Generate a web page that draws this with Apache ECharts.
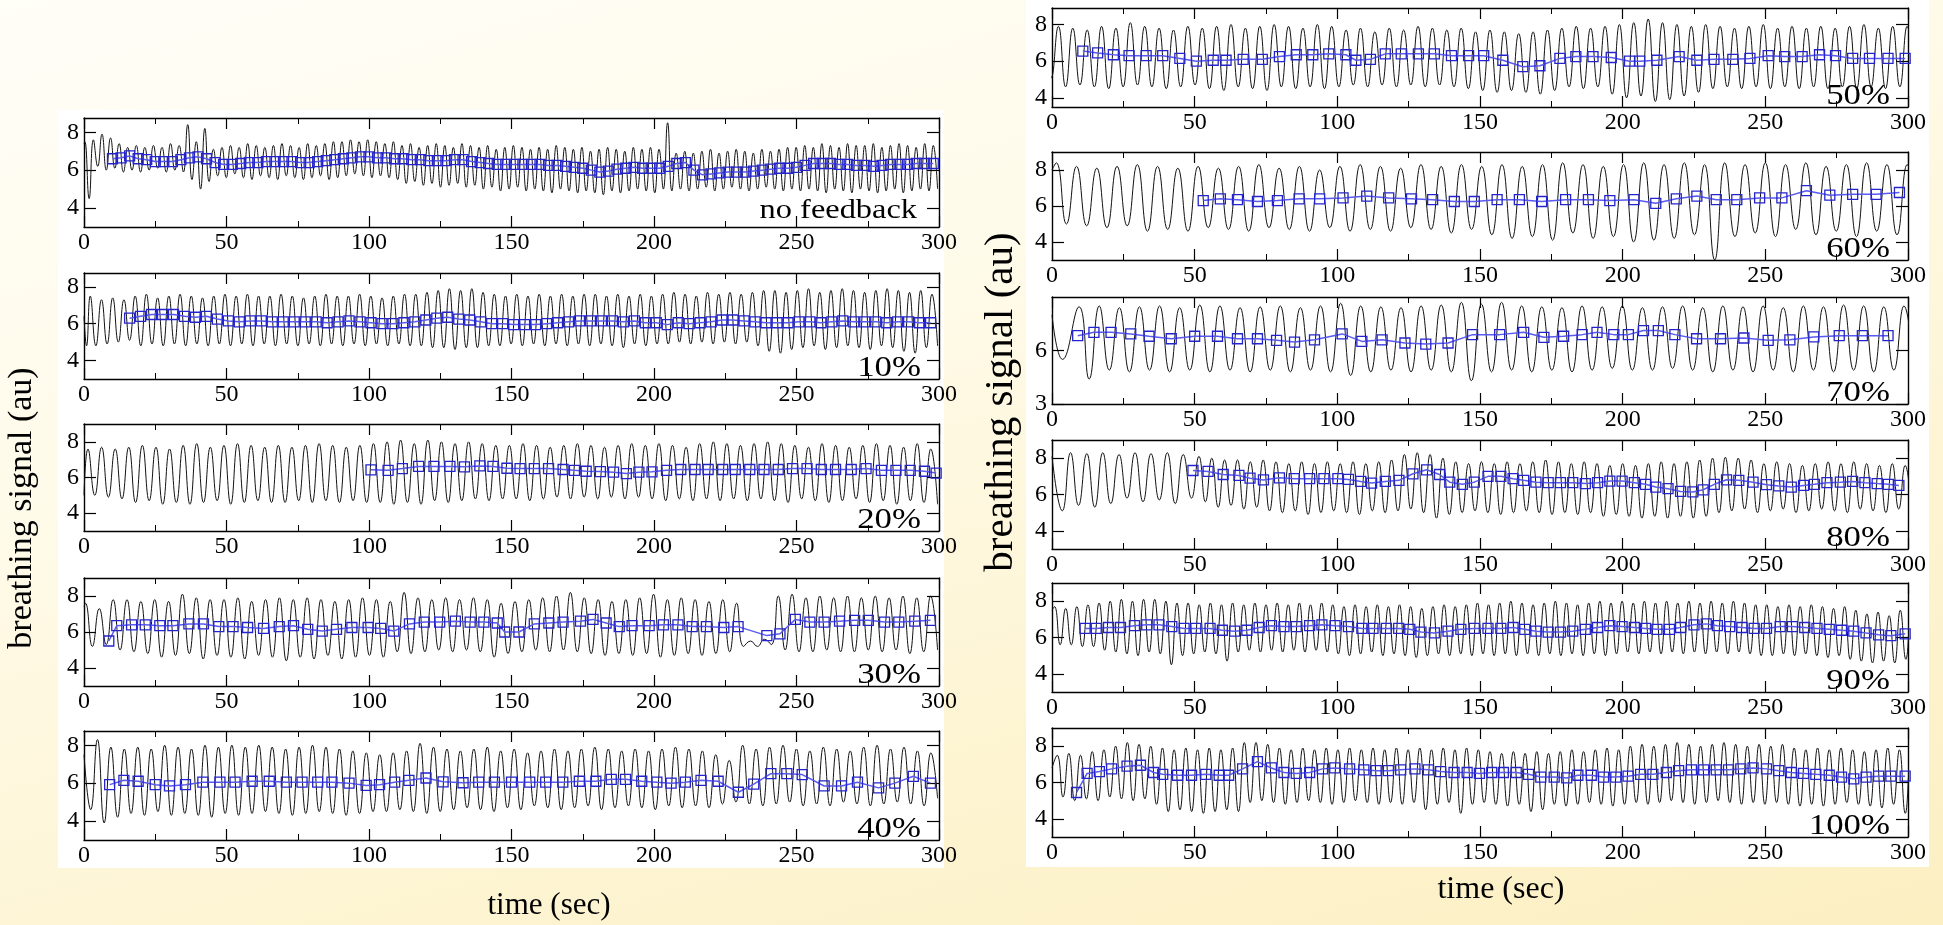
<!DOCTYPE html>
<html><head><meta charset="utf-8">
<script src="https://cdn.jsdelivr.net/npm/echarts@6/dist/echarts.min.js"></script>
<style>
html,body{margin:0;padding:0;width:1943px;height:925px;overflow:hidden;}
body{position:relative;background:linear-gradient(165deg,#fffef7 0%,#fffbea 35%,#fdf4d2 70%,#fcefc2 100%);}
.wb{position:absolute;background:#fff;}
#c{position:absolute;left:0;top:0;width:1943px;height:925px;}
</style></head><body>
<div class="wb" style="left:58px;top:110px;width:886px;height:758px;"></div>
<div class="wb" style="left:1026px;top:0px;width:903px;height:867px;"></div>
<div id="c"></div>
<script>
// ---------------- DATA ----------------
const xTicks = [0, 50, 100, 150, 200, 250, 300];
const panelNames = ['no feedback', '10%', '20%', '30%', '40%', '50%', '60%', '70%', '80%', '90%', '100%'];

// no feedback
const nfSpan = [0.3, 299.5];
const nfPk = [7.5,7.6,7.9,7.7,7.4,7.2,7.3,7.2,7.3,7.2,7.4,7.3,8.4,7.5,8.2,7.1,7.2,
 7.3,7.2,7.4,7.3,7.2,7.3,7.4,7.3,7.2,7.4,7.3,7.4,7.5,
 7.5,7.6,7.5,7.6,7.5,7.4,7.5,
 7.3,7.4,7.2,7.3,7.4,7.3,7.2,7.4,7.3,7.2,7.3,7.1,7.2,7.3,7.2,7.1,
 7.2,7.1,7.3,7.2,7.1,7.2,7.0,7.1,7.2,7.1,7.0,7.2,7.1,7.2,7.1,
 8.5,
 6.9,7.0,6.9,7.0,7.1,6.9,7.0,7.1,7.0,6.9,7.1,7.0,7.1,7.2,
 7.2,7.3,7.2,7.4,7.3,7.2,7.4,7.3,7.3,7.4,7.2,7.3,7.4,7.3,7.2,7.4,7.3];
const nfTr = [4.5,6.2,6.0,6.1,5.9,6.0,5.9,6.0,6.1,5.9,6.0,5.9,5.5,5.0,5.4,
 5.7,5.6,5.8,5.6,5.5,5.7,5.6,5.5,5.7,5.6,5.5,5.6,5.7,5.5,5.6,
 5.7,5.8,5.7,5.6,5.7,5.6,5.5,
 5.3,5.4,5.2,5.3,5.1,5.2,5.3,5.1,5.2,5.0,5.1,4.9,5.0,5.1,4.9,5.0,
 4.9,4.8,5.0,4.9,4.8,4.9,4.8,4.7,4.9,4.8,4.9,5.0,4.9,4.8,5.0,
 4.9,
 5.0,4.9,5.0,5.1,4.9,5.0,5.1,5.0,4.9,5.0,5.1,5.0,4.9,5.0,
 4.9,5.0,4.9,4.8,5.0,4.9,4.8,5.0,4.9,4.8,4.9,5.0,4.8,4.9,5.0,4.9,5.0];
const nfLead = [[0, 7.4]];
const nfBlueT0 = 10, nfBlueDt = 3;
const nfBlue = [6.6,6.65,6.75,6.6,6.55,6.45,6.45,6.45,6.55,6.65,
 6.7,6.6,6.4,6.3,6.3,6.35,6.4,6.4,6.45,6.45,
 6.45,6.45,6.4,6.4,6.45,6.5,6.55,6.6,6.65,6.7,
 6.7,6.65,6.65,6.6,6.6,6.55,6.55,6.5,6.5,6.5,
 6.55,6.55,6.45,6.4,6.35,6.3,6.3,6.3,6.3,6.3,
 6.3,6.25,6.25,6.2,6.15,6.1,6.0,5.9,5.95,6.05,
 6.1,6.15,6.1,6.1,6.1,6.2,6.35,6.4,6.0,5.75,
 5.8,5.85,5.9,5.9,5.9,5.95,6.0,6.05,6.1,6.1,
 6.15,6.25,6.35,6.35,6.35,6.3,6.3,6.25,6.25,6.2,
 6.25,6.3,6.3,6.3,6.35,6.35,6.35];

// 10%
const tenSpan = [2.2, 299.5];
const tenLead = [[0, 6.4], [0.9, 4.8]];
const tenPk = [7.5,7.3,7.4,7.3, 7.5,7.6,7.4,7.5,7.6,7.5,7.4,7.5,7.6,
 7.5,7.6,7.5,7.5,7.6,7.5,7.4,7.5,7.6,7.5,7.5,7.6,7.5,7.4,7.5,7.6,7.6,7.7,
 7.8,7.9,7.8,7.9,7.7,
 7.6,7.5,7.6,7.5,7.6,7.5,7.6,7.5,7.6,7.6,7.5,7.6,7.5,7.6,7.5,
 7.6,7.7,7.6,7.5,7.7,7.6,7.7,7.6,7.7,7.8,
 7.8,7.7,7.8,7.9,7.7,7.8,7.9,7.8,7.7,7.8,7.9,7.8,7.7,7.8,7.6];
const tenTr = [4.8,4.9,5.0,5.1, 4.8,4.9,4.8,4.9,4.8,4.9,4.8,4.9,4.8,
 4.9,4.8,4.9,4.8,4.9,4.8,4.9,4.8,4.9,4.8,4.9,4.8,4.9,4.8,4.9,4.8,4.8,4.7,
 4.7,4.6,4.7,4.7,4.8,
 4.8,4.9,4.8,4.9,4.8,4.9,4.8,4.9,4.8,4.9,4.8,4.7,4.9,4.8,4.9,
 4.9,5.0,4.9,5.0,4.9,5.0,4.9,5.0,4.8,4.5,
 4.4,4.6,4.7,4.8,4.6,4.7,4.8,4.7,4.6,4.8,4.7,4.5,4.4,4.7,4.8];
const tenBlueT0 = 16, tenBlueDt = 3.85;
const tenBlue = [6.3,6.4,6.5,6.5,6.5,6.4,6.35,6.4,6.25,6.15,6.1,6.15,6.15,6.1,6.1,6.1,6.1,6.1,6.05,6.1,
 6.15,6.1,6.05,6.0,6.0,6.05,6.1,6.2,6.3,6.35,6.25,6.2,6.1,6.0,6.0,5.95,5.95,5.95,6.0,6.05,
 6.1,6.15,6.15,6.15,6.15,6.1,6.15,6.05,6.05,5.95,6.05,6.0,6.05,6.1,6.2,6.2,6.15,6.1,6.05,6.05,
 6.05,6.1,6.1,6.05,6.1,6.15,6.1,6.1,6.1,6.05,6.1,6.1,6.05,6.05];

// 20%
const twSpan = [1.4, 299.5];
const twLead = [[0, 5.0]];
const twPk = [7.6,7.7,7.6,7.7,7.8,7.7,7.6,7.8,7.9,7.7,7.8,7.9,7.8,7.7,7.8,7.7,7.8,7.9,7.8,7.7,7.8,
 7.9,8.0,8.1,7.9,8.1,8.0,7.9,8.0,7.9,7.8,
 7.8,7.9,7.8,7.7,7.8,7.9,7.8,7.7,7.8,7.9,7.8,7.9,7.8,7.7,7.9,8.0,7.9,7.8,7.9,8.0,7.9,7.8,7.7,7.9,7.8,7.7,7.8,7.9,7.8,7.7,7.9,7.6];
const twTr = [5.0,4.9,4.8,4.6,4.7,4.5,4.6,4.5,4.6,4.7,4.5,4.6,4.7,4.6,4.6,4.7,4.6,4.7,4.6,4.7,4.6,
 4.6,4.5,4.6,4.5,4.7,4.6,4.7,4.8,4.7,4.8,
 4.8,4.7,4.8,4.9,4.8,4.9,4.8,4.9,4.8,4.9,4.8,4.7,4.8,4.7,4.8,4.7,4.8,4.7,4.8,4.7,4.6,4.8,4.7,4.6,4.7,4.8,4.6,4.7,4.5,4.7,4.6,4.5];
const twBlue = [[100.7,6.43],[106.7,6.4],[111.7,6.5],[117.4,6.62],[122.8,6.62],[128.4,6.62],[133.5,6.6],[138.9,6.65],[143.5,6.62],[148.4,6.52],[153,6.5],[158,6.5],[163,6.5],[168.1,6.45],[172.1,6.4],[176.2,6.35],[181.2,6.33],[185.8,6.3],[190.3,6.22],[194.7,6.3],[199.3,6.32],[204.4,6.4],[209.4,6.45],[214.4,6.45],[219,6.45],[224.1,6.45],[228.5,6.45],[233.6,6.45],[238.6,6.45],[243.6,6.45],[248.6,6.5],[253.7,6.5],[258.7,6.45],[263.7,6.45],[269.2,6.45],[274.4,6.5],[279.8,6.4],[284.9,6.4],[289.9,6.4],[294.9,6.35],[299,6.25]];

// 30%
const thSpan = [0.5, 299.5];
const thLead = [[0, 7.4]];
const thPk = [7.6,7.3,7.8,7.8,7.7,7.8,7.7,8.1,7.9,7.8,7.8,7.9,7.7,7.8,7.9,7.8,7.9,7.8,7.7,7.8,7.9,7.8,7.7,8.2,7.9,7.8,7.9,7.8,7.9,7.8,7.6,7.7,7.8,7.9,8.0,8.2,7.9,7.8,7.7,7.8,7.9,8.1,7.8,7.9,7.8,7.7,7.8,7.6,5.5,5.6,8.0,8.1,7.9,8.0,7.9,8.0,7.9,8.0,7.9,8.0,7.9,8.0];
const thTr = [5.2,5.3,5.0,4.9,4.8,4.6,4.7,4.8,4.5,4.7,4.6,4.5,4.7,4.6,4.4,4.6,4.5,4.7,4.5,4.6,4.7,4.6,4.9,4.8,4.9,5.0,4.9,5.0,4.9,4.6,4.8,4.9,5.0,4.9,5.0,4.9,4.8,4.7,4.8,4.7,4.8,4.6,4.7,4.8,4.7,4.8,4.9,5.2,5.2,5.3,5.0,4.9,4.9,5.0,4.9,4.9,5.0,4.9,5.0,4.8,4.9,5.0];
const thBlue = [[8.7,5.5],[11.5,6.35],[16.7,6.4],[21.5,6.4],[26.6,6.35],[31.2,6.35],[36.8,6.45],[41.9,6.45],[47.3,6.3],[52.3,6.3],[57.4,6.25],[63,6.2],[68.5,6.3],[73.5,6.35],[78.5,6.15],[83.6,6.05],[88.6,6.15],[94,6.25],[99.7,6.25],[104.1,6.2],[108.7,6.05],[114.2,6.45],[119.4,6.55],[124.8,6.55],[130.3,6.6],[135.5,6.55],[140.3,6.55],[145,6.5],[147.6,6.0],[152.6,6.0],[158,6.45],[163.1,6.5],[168.1,6.55],[174.2,6.6],[178.6,6.7],[183.2,6.5],[187.8,6.3],[192.3,6.35],[198.3,6.35],[203.3,6.4],[208.4,6.4],[213.4,6.3],[218.4,6.3],[224.5,6.25],[229.5,6.3],[239.6,5.8],[244.2,5.9],[249.6,6.7],[254.7,6.55],[259.7,6.55],[265.1,6.6],[270.4,6.65],[275.2,6.65],[280.9,6.55],[285.9,6.55],[291.5,6.6],[297,6.65]];

// 40%
const foSpan = [0, 299.5];
const foLead = [];
const foPk = [7.5,8.3,7.9,7.8,7.9,7.8,8.0,7.9,7.8,8.0,7.9,
 8.0,7.9,8.0,7.9,7.8,7.9,8.0,7.9,7.8,7.7,7.6,
 7.5,7.6,7.7, 8.1,
 7.9,7.8,7.7,7.8,7.9,7.7,7.8,7.6,7.7,7.8,7.7,7.8,7.9,7.8,7.7,7.8,7.7,7.8,7.9,7.8,7.7,
 7.5,7.2,8.0,
 7.8,7.9,8.0,7.8,7.7,7.9,7.8,7.7,7.9,8.0,7.8,7.9,7.7,7.6];
const foTr = [4.6,3.9,4.2,4.4,4.3,4.5,4.3,4.4,4.3,4.2,4.4,
 4.3,4.4,4.5,4.4,4.3,4.4,4.5,4.4,4.3,4.4,4.5,
 4.5,4.6,4.5, 4.4,
 4.5,4.6,4.7,4.6,4.5,4.7,4.6,4.8,4.7,4.6,4.7,4.8,4.6,4.7,4.8,4.7,4.6,4.8,4.7,4.8,4.7,
 4.9,5.0,4.9,
 4.8,4.9,5.0,4.8,4.9,4.8,5.0,4.9,4.8,4.9,5.0,4.9,4.8,5.2];
const foBlue = [[9,5.92],[14,6.15],[19,6.1],[25,5.92],[30,5.85],[35.6,5.92],[41.7,6.05],[47.7,6.05],[53,6.05],[59,6.1],[65,6.1],[71,6.05],[76.5,6.05],[82,6.05],[87,6.05],[93,6.0],[99,5.88],[103.7,5.92],[109,6.05],[114,6.15],[120,6.27],[126,6.07],[133,6.02],[138.5,6.05],[144,6.05],[150,6.05],[156.4,6.05],[162,6.05],[168,6.05],[173.8,6.1],[179.6,6.1],[185,6.2],[190,6.2],[195.7,6.1],[201,6.05],[206,6.0],[211,6.05],[216.5,6.15],[222.5,6.1],[229.6,5.52],[235,5.95],[241,6.5],[246.6,6.5],[252,6.45],[259.7,5.85],[265.8,5.85],[271.4,6.05],[278.8,5.75],[284.5,6.0],[291,6.36],[297,6.0]];

// 50%
const fiSpan = [-2.8, 302.2];
const fiLead = [];
const fiPk = [7.8,7.9, 7.8,7.7,7.9,7.8,8.1,7.9,7.8,7.7,7.9, 7.8,7.9,8.0,7.8,7.9,8.0,7.9,7.8,8.0,7.9, 7.7,7.8,7.6,7.8,7.7,7.9,7.8,7.7,7.8,7.6, 7.7,7.6,7.5,7.6,7.7,7.8,7.9,7.8, 7.9,8.0,8.1,8.3,8.1,8.0,7.9,8.0, 7.9,7.8,7.9,8.0,7.8,7.9,7.8,7.9,7.8,7.9,8.0,7.8,7.9,7.9];
const fiTr = [5.1, 4.6,4.7,4.6,4.5,4.6,4.7,4.6,4.5,4.6,4.7, 4.5,4.4,4.6,4.5,4.4,4.6,4.5,4.6,4.5,4.6, 4.7,4.6,4.7,4.6,4.7,4.6,4.7,4.6,4.5,4.4, 4.3,4.4,4.3,4.2,4.4,4.6,4.5,4.6, 4.2,4.0,4.1,3.8,3.9,4.1,4.3,4.5, 4.6,4.5,4.6,4.5,4.6,4.5,4.6,4.5,4.6,4.5,4.6,4.5,4.6,4.5];
const fiBlue = [[10.8,6.55],[16,6.45],[21.5,6.35],[27,6.3],[33,6.3],[38.8,6.3],[44.8,6.15],[50.6,6.0],[56.5,6.05],[61,6.05],[67,6.1],[73.7,6.1],[79.7,6.25],[85.6,6.35],[91.4,6.35],[97,6.4],[103,6.35],[106.5,6.05],[111.6,6.1],[116.8,6.4],[122.4,6.4],[128.4,6.4],[134,6.4],[140,6.3],[146,6.3],[151.3,6.3],[158,6.05],[165,5.7],[171,5.75],[178,6.15],[183.6,6.25],[189.6,6.25],[196,6.2],[202.4,6.0],[206,6.0],[212,6.05],[219.8,6.25],[226,6.05],[232,6.1],[238.6,6.1],[244.6,6.15],[251,6.3],[256.8,6.25],[262.9,6.25],[269,6.35],[274.6,6.3],[280.6,6.15],[286.5,6.15],[293,6.15],[299,6.15]];

// 60%
const siSpan = [1.5, 303.25];
const siLead = [[0, 8.0]];
const siPk = [8.4, 8.2,8.1,8.2,8.3,8.2,8.1,8.2, 8.1,8.2,8.3,8.1,8.2,8.0,8.2, 8.3,8.2,8.1,8.3,8.2,8.3,8.2, 8.3,8.2,8.3,8.4,8.3,8.2,8.3, 8.4,8.3,8.4,8.3,8.4,8.3,8.4, 8.3,8.4,8.2,8.3,8.4,8.3,8.3];
const siTr = [5.0, 4.9,4.8,4.9,4.6,4.7,4.6,4.8, 4.7,4.6,4.8,4.7,4.6,4.8,4.6, 4.7,4.6,4.8,4.7,4.5,4.7,4.4, 4.2,4.3,4.1,4.5,4.2,4.3,4.0, 4.1,4.2,4.4,3.0,4.3,4.5,4.3, 4.7,4.4,4.6,4.3,4.6,4.4,4.6];
const siBlue = [[53,6.3],[59,6.4],[65,6.35],[72,6.25],[79,6.3],[86.6,6.4],[93.8,6.4],[102,6.45],[110.3,6.55],[118,6.45],[126,6.4],[133.4,6.35],[141,6.25],[148,6.25],[156,6.35],[163.8,6.35],[171.6,6.25],[180,6.35],[188,6.35],[195.5,6.3],[204,6.35],[211.6,6.15],[218.8,6.4],[226,6.55],[232.8,6.35],[240,6.35],[248,6.45],[255.8,6.45],[264.4,6.85],[272.6,6.6],[280.6,6.65],[288.8,6.65],[297,6.75]];

// 70%
const seSpan = [9.5, 302.1];
const seLead = [[0, 8.0], [3.7, 5.5]];
const sePk = [8.45,8.5,8.4,8.45,8.5,8.4,8.55, 8.5,8.4,8.45,8.5,8.4,8.5,8.65, 8.5,8.45,8.4,8.5,8.55,8.7,8.6, 8.7,8.5,8.45,8.4,8.5,8.45,8.5, 8.4,8.45,8.5,8.4,8.5,8.45,8.5, 8.4,8.5,8.45,8.55,8.5,8.45,8.5];
const seTr = [4.4,4.9,4.8,4.9,4.8,4.9,4.8, 4.9,4.8,4.9,4.8,4.9,4.8,4.6, 4.8,4.9,4.8,4.9,4.8,4.3,4.8, 4.9,4.8,4.9,4.8,4.9,5.0,4.9, 4.9,5.0,4.9,4.8,4.9,4.8,4.9, 4.8,4.9,4.8,4.9,4.8,4.9,4.8];
const seBlue = [[9,6.83],[14.7,7.02],[20.7,7.02],[27.6,6.93],[34,6.8],[41.8,6.66],[50,6.8],[58,6.8],[65,6.66],[72,6.66],[78.7,6.57],[85,6.47],[92,6.6],[101.7,6.93],[108.6,6.51],[115.7,6.6],[123.7,6.42],[131,6.36],[138.8,6.42],[147.4,6.89],[156.9,6.89],[165.3,7.02],[172.4,6.74],[179.3,6.8],[185.8,6.89],[191,7.02],[196.9,6.89],[202,6.89],[207.3,7.12],[212.5,7.12],[218.3,6.89],[225.9,6.66],[234.3,6.66],[242.5,6.7],[251,6.57],[258.6,6.6],[267,6.76],[275.9,6.83],[284,6.83],[293,6.83]];

// 80%
const eiSpan = [51.5, 301.25];
const eiLead = [[0,8.1],[3.6,5.1],[6.5,8.3],[9.3,5.4],[12.2,8.25],[15,5.3],[17.8,8.3],[20.6,5.5],[23.5,8.2],[26.3,5.8],[29.1,8.3],[31.9,5.6],[34.7,8.25],[37.6,5.7],[40.4,8.3],[43.2,5.5],[46.0,8.2],[48.9,5.8]];
const eiPk = [8.1,8.0,7.9,7.9,7.8,7.9, 7.8,7.7,7.8,7.7,7.8,7.7,7.8,7.7,7.8,7.9, 8.2,8.3,8.2,8.0, 7.8,7.7,7.8,7.7,7.8,7.7,7.8,7.9,7.8,7.7,7.8,7.7,7.6,7.7,7.6,7.7,7.8,7.7,7.8,7.9, 8.0,8.05,8.0,7.9, 7.7,7.8,7.7,7.6,7.7,7.8,7.7,7.8,7.7,7.6,7.7,7.6];
const eiTr = [5.6,5.3,5.4,5.2,5.3,5.1, 5.0,5.1,4.9,5.0,5.1,5.0,4.9,5.1,5.0,5.1, 5.2,5.0,4.7,4.9, 5.0,5.1,5.0,4.9,5.0,5.1,5.0,4.9,5.0,4.9,5.0,4.8,4.9,4.8,4.7,4.8,4.7,4.8,4.7,4.8, 5.0,5.1,5.2,5.0, 5.1,5.2,5.0,5.1,5.2,5.1,5.0,5.2,5.1,5.0,5.2,5.1];
const eiBlue = [[49.4,7.32],[54.7,7.27],[60,7.1],[65.5,7.05],[69.4,6.9],[74.1,6.8],[79.7,6.92],[84.9,6.87],[90.3,6.87],[95.3,6.87],[100.2,6.87],[103.9,6.83],[108.2,6.72],[112,6.63],[116.8,6.72],[121.6,6.78],[126.5,7.14],[131.3,7.36],[135.8,7.1],[139.4,6.68],[143.8,6.56],[148,6.68],[152.8,7.0],[157.3,7.0],[161.6,6.87],[165.3,6.78],[169.6,6.68],[173.9,6.65],[178.2,6.65],[182.5,6.65],[186.9,6.6],[191.2,6.65],[195.5,6.74],[199.8,6.74],[204.1,6.65],[208,6.56],[211.6,6.41],[215.9,6.32],[220.3,6.17],[224.6,6.14],[228.2,6.26],[232.1,6.56],[236.4,6.81],[240.7,6.78],[245.7,6.68],[250.4,6.54],[254.7,6.47],[259.1,6.41],[263.4,6.5],[267.2,6.56],[271.6,6.65],[276.3,6.68],[280.6,6.72],[284.9,6.65],[289.2,6.6],[293.1,6.56],[296.8,6.5]];

// 90%
const niSpan = [0.9, 303.15];
const niLead = [[0, 7.5]];
const niPk = [7.7,7.6,7.7,7.8,7.9, 8.0,8.1,8.0,8.1,8.1,8.0,7.9, 7.9,7.8,7.9,7.8,7.9,7.8,7.9,7.8,7.9,7.8,7.9,7.8,7.9, 7.8,7.7,7.8,7.7,7.8,7.7,7.8,7.7,7.6,7.7,7.8,7.7,7.8, 7.9,7.8,7.9,8.0,7.9,7.8,7.9,8.0,7.9,7.8,7.9,8.0,7.9, 8.0,7.9,8.0,7.9,8.0,7.9,8.0,7.9,8.0,7.9,8.0,7.9,7.8, 7.8,7.7,7.8,7.7,7.8,7.7,7.6,7.7, 7.5,7.3,7.4,7.2,7.5,7.6];
const niTr = [5.6,5.6,5.5,5.5,5.3, 5.2,5.1,5.0,5.2,5.1,4.5,5.0, 5.1,5.2,5.1,4.7,5.2,5.3,5.2,5.3,5.2,5.3,5.2,5.3,5.2, 5.1,5.0,5.1,5.2,5.0,5.1,5.0,4.9,5.0,5.1,5.0,5.1,5.0, 5.1,5.0,5.1,5.0,5.1,5.0,5.1,5.0,5.1,5.0,5.1,5.0,5.1, 5.2,5.1,5.2,5.1,5.2,5.1,5.2,5.1,5.2,5.1,5.2,5.1,5.0, 5.0,5.1,5.0,5.1,5.0,4.9,5.0,4.8, 4.7,4.6,4.7,4.6,4.8,5.0];
const niBlue = [[11.6,6.5],[15.5,6.5],[19.8,6.55],[24,6.55],[28.9,6.65],[33.2,6.7],[37.5,6.7],[42,6.6],[46.3,6.5],[50.4,6.5],[55.4,6.5],[59.7,6.4],[64,6.35],[68.3,6.4],[72.6,6.55],[76.9,6.65],[81.3,6.6],[85.6,6.6],[90.3,6.65],[94.6,6.7],[99.2,6.65],[103.9,6.6],[108.6,6.5],[112.5,6.5],[117.2,6.5],[121.5,6.5],[125.4,6.45],[129.3,6.3],[134,6.25],[138.8,6.35],[143.3,6.45],[148,6.5],[152.8,6.5],[157.3,6.5],[161.6,6.55],[165.7,6.45],[169.6,6.35],[173.9,6.3],[178.2,6.3],[182.5,6.35],[186.9,6.45],[191.2,6.55],[195.5,6.65],[199.8,6.6],[204.1,6.55],[208,6.5],[212,6.45],[216.4,6.45],[220.3,6.55],[225,6.7],[229.3,6.75],[233.2,6.65],[237.5,6.6],[241.8,6.55],[246.1,6.5],[250.4,6.5],[255.2,6.6],[259.5,6.6],[263.8,6.55],[268.1,6.5],[272.4,6.45],[276.7,6.4],[281,6.35],[285.3,6.25],[289.7,6.15],[294,6.1],[299,6.2]];

// 100%
const huSpan = [1.8, 303.15];
const huLead = [[0, 6.8]];
const huPk = [7.5,7.6,7.5,7.7,7.8, 8.0,8.2,8.1,8.0, 7.9,7.8,7.9,7.8,7.9,7.8,7.9, 8.2,8.2,8.1, 7.9,7.8,7.9,7.8,7.9,7.8,7.9,7.8,7.9,7.8,7.9,7.8,7.9,7.8,7.9,7.8,7.9,7.8, 7.7,7.6,7.7,7.6,7.7,7.6,7.7,7.8,7.7,7.8,7.9,7.8, 8.0,8.1,8.0,8.1,8.2,8.1,8.0,8.1,8.2,8.1,8.0,8.1,8.0,8.1, 7.9,7.8,7.9,7.8,7.9,7.8,7.7,7.8,7.9,7.8,7.7];
const huTr = [5.2,5.0,5.1,5.0,5.2, 5.1,5.0,5.1,4.8, 4.4,4.5,4.4,4.3,4.4,4.5,4.4, 4.9,5.0,4.9, 4.8,4.9,5.0,4.9,4.8,4.9,5.0,4.9,4.8,4.9,4.8,4.9,4.5,4.8,4.9,4.3,4.8,4.9, 4.8,4.7,4.8,4.4,4.5,4.8,4.7,4.8,4.9,4.8,4.7,4.8, 4.9,4.8,4.9,5.0,4.9,4.8,4.9,5.0,4.9,4.8,4.9,4.8,4.9,4.8, 4.7,4.8,4.7,4.8,4.9,4.8,4.7,4.6,4.8,4.3,4.5];
const huBlue = [[8.6,5.45],[12.3,6.5],[16.6,6.6],[20.9,6.75],[26.3,6.9],[31,6.95],[35.6,6.55],[38.8,6.45],[44,6.4],[48.9,6.4],[53.9,6.45],[58.6,6.4],[61.9,6.4],[66.8,6.75],[72,7.15],[76.9,6.8],[81.3,6.55],[85.6,6.5],[90.3,6.55],[94.8,6.75],[99.1,6.8],[104.3,6.75],[109.3,6.7],[113.6,6.65],[117.9,6.65],[122.2,6.7],[127.2,6.75],[131.9,6.7],[136.2,6.6],[140.9,6.55],[145.5,6.55],[149.8,6.5],[154.1,6.55],[158.2,6.55],[162.7,6.55],[167,6.45],[171.3,6.3],[176,6.3],[180.4,6.25],[184.3,6.4],[189,6.4],[193.3,6.3],[197.6,6.3],[201.9,6.35],[206.3,6.45],[210.6,6.45],[215.3,6.55],[219.6,6.65],[224.1,6.7],[228.4,6.7],[232.8,6.7],[237.1,6.7],[241.4,6.75],[245.7,6.8],[250.4,6.75],[254.7,6.65],[259.1,6.55],[263.4,6.5],[267.7,6.45],[272.4,6.4],[276.7,6.3],[281,6.2],[285.3,6.3],[289.7,6.35],[294,6.35],[299,6.35]];

const yTicksStd = [4, 6, 8];
const yTicks70 = [3, 6];

// ---------------- BUILD ----------------
function zigzag(lead, span, pk, tr) {
  const pts = lead.slice();
  const n = pk.length;
  const step = (span[1] - span[0]) / (2 * n - 1);
  for (let i = 0; i < n; i++) {
    pts.push([span[0] + 2 * i * step, pk[i]]);
    if (i < tr.length) pts.push([span[0] + (2 * i + 1) * step, tr[i]]);
  }
  return pts;
}
function stepped(t0, dt, vals) { return vals.map((v, i) => [t0 + i * dt, v]); }

const sigs = [
  zigzag(nfLead, nfSpan, nfPk, nfTr),
  zigzag(tenLead, tenSpan, tenPk, tenTr),
  zigzag(twLead, twSpan, twPk, twTr),
  zigzag(thLead, thSpan, thPk, thTr),
  zigzag(foLead, foSpan, foPk, foTr),
  zigzag(fiLead, fiSpan, fiPk, fiTr),
  zigzag(siLead, siSpan, siPk, siTr),
  zigzag(seLead, seSpan, sePk, seTr),
  zigzag(eiLead, eiSpan, eiPk, eiTr),
  zigzag(niLead, niSpan, niPk, niTr),
  zigzag(huLead, huSpan, huPk, huTr)
];
const blues = [
  stepped(nfBlueT0, nfBlueDt, nfBlue),
  stepped(tenBlueT0, tenBlueDt, tenBlue),
  twBlue, thBlue, foBlue, fiBlue, siBlue, seBlue, eiBlue, niBlue, huBlue
];

// layout (pixels)
const LX = 84, LW = 855, RX = 1052, RW = 856;
const layout = [
  {x: LX, w: LW, top: 118, h: 109, ymin: 3, ymax: 8.75, yt: yTicksStd},
  {x: LX, w: LW, top: 273, h: 106, ymin: 3, ymax: 8.75, yt: yTicksStd},
  {x: LX, w: LW, top: 424, h: 107, ymin: 3, ymax: 9, yt: yTicksStd},
  {x: LX, w: LW, top: 578, h: 108, ymin: 3, ymax: 9, yt: yTicksStd},
  {x: LX, w: LW, top: 731, h: 109, ymin: 3, ymax: 8.75, yt: yTicksStd},
  {x: RX, w: RW, top: 8, h: 99, ymin: 3.5, ymax: 8.9, yt: yTicksStd},
  {x: RX, w: RW, top: 152, h: 108, ymin: 3, ymax: 9, yt: yTicksStd},
  {x: RX, w: RW, top: 297, h: 107, ymin: 3, ymax: 9, yt: yTicks70},
  {x: RX, w: RW, top: 440, h: 109, ymin: 3, ymax: 9, yt: yTicksStd},
  {x: RX, w: RW, top: 583, h: 109, ymin: 3, ymax: 9, yt: yTicksStd},
  {x: RX, w: RW, top: 728, h: 109, ymin: 3, ymax: 9, yt: yTicksStd}
];

const FONT = 'Liberation Serif';
const grids = [], xAxes = [], yAxes = [], series = [], graphics = [];

layout.forEach((p, i) => {
  grids.push({left: p.x, top: p.top, width: p.w, height: p.h, containLabel: false, outerBoundsMode: 'none'});
  ['bottom', 'top'].forEach(pos => {
    xAxes.push({
      gridIndex: i, type: 'value', min: xTicks[0], max: xTicks[xTicks.length - 1], interval: xTicks[1] - xTicks[0],
      position: pos,
      axisLine: {show: true, onZero: false, lineStyle: {color: '#000', width: 1.4}},
      axisTick: {show: true, inside: true, length: 11, lineStyle: {color: '#000', width: 1.2}},
      minorTick: {show: true, splitNumber: 2, length: 6, lineStyle: {color: '#000', width: 1}},
      axisLabel: {show: pos === 'bottom', fontFamily: FONT, fontSize: 24, color: '#000', margin: 4},
      splitLine: {show: false}, minorSplitLine: {show: false}
    });
  });
  ['left', 'right'].forEach(pos => {
    yAxes.push({
      gridIndex: i, type: 'value', min: p.ymin, max: p.ymax, position: pos,
      axisLine: {show: true, onZero: false, lineStyle: {color: '#000', width: 1.4}},
      axisTick: {show: true, inside: true, length: 12, customValues: p.yt, lineStyle: {color: '#000', width: 1.2}},
      axisLabel: {show: pos === 'left', customValues: p.yt, fontFamily: FONT, fontSize: 24, color: '#000', margin: 5},
      splitLine: {show: false}
    });
  });
  series.push({
    type: 'line', xAxisIndex: 2 * i, yAxisIndex: 2 * i, data: sigs[i],
    symbol: 'none', smooth: 0.5, clip: true, silent: true, animation: false,
    lineStyle: {color: '#111', width: 1}, z: 2
  });
  series.push({
    type: 'line', xAxisIndex: 2 * i, yAxisIndex: 2 * i, data: blues[i],
    symbol: 'rect', symbolSize: 10, clip: true, silent: true, animation: false,
    lineStyle: {color: '#5a5af0', width: 1.5},
    itemStyle: {color: 'rgba(255,255,255,0)', borderColor: '#2424cc', borderWidth: 1.3}, z: 3
  });
  const isNF = i === 0;
  graphics.push({
    type: 'text', x: p.x + p.w - (isNF ? 22 : 18), y: p.top + p.h + (isNF ? -3 : 4),
    scaleX: 1.2, z: 1,
    style: {text: panelNames[i], fontFamily: FONT, fontSize: isNF ? 27 : 29, fill: '#000', align: 'right', verticalAlign: 'bottom'}
  });
});

// axis titles
graphics.push({type: 'text', x: 549, y: 906, style: {text: 'time (sec)', fontFamily: FONT, fontSize: 31, fill: '#000', align: 'center', verticalAlign: 'middle'}});
graphics.push({type: 'text', x: 1501, y: 890, style: {text: 'time (sec)', fontFamily: FONT, fontSize: 32, fill: '#000', align: 'center', verticalAlign: 'middle'}});
graphics.push({type: 'text', x: 22, y: 508, rotation: Math.PI / 2, style: {text: 'breathing signal (au)', fontFamily: FONT, fontSize: 34, fill: '#000', align: 'center', verticalAlign: 'middle'}});
graphics.push({type: 'text', x: 1001, y: 402, rotation: Math.PI / 2, style: {text: 'breathing signal (au)', fontFamily: FONT, fontSize: 41, fill: '#000', align: 'center', verticalAlign: 'middle'}});

const chart = echarts.init(document.getElementById('c'), null, {renderer: 'canvas'});
chart.setOption({
  animation: false,
  backgroundColor: 'transparent',
  grid: grids, xAxis: xAxes, yAxis: yAxes, series: series,
  graphic: graphics
});
</script>
</body></html>
